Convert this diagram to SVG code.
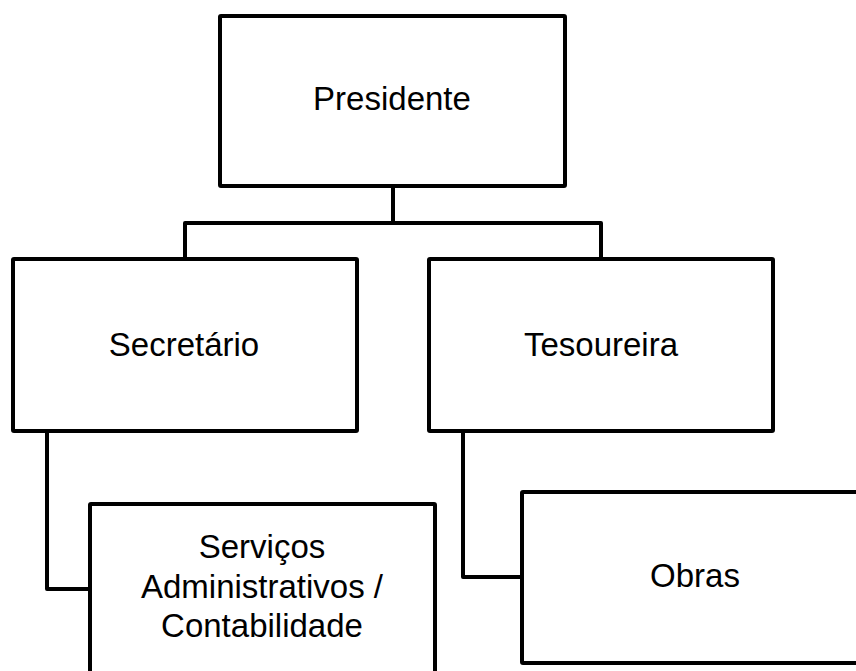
<svg xmlns="http://www.w3.org/2000/svg" width="856" height="671" viewBox="0 0 856 671">
<style>
.box{fill:#fff;stroke:#000;stroke-width:4;stroke-linejoin:round}
.conn{fill:none;stroke:#000;stroke-width:4;stroke-linejoin:round}
text{font-family:"Liberation Sans",Arial,sans-serif;font-size:33px;fill:#000;text-anchor:middle}
</style>
<rect width="856" height="671" fill="#fff"/>
<g id="connectors">
<path class="conn" d="M393,186 V223 H185 V259 M393,223 H601 V259"/>
<path class="conn" d="M47,431 V589 H90"/>
<path class="conn" d="M463,431 V577 H522"/>
</g>
<g id="presidente">
<rect class="box" x="220" y="16" width="345" height="170" rx="1"/>
<text x="392" y="110">Presidente</text>
</g>
<g id="secretario">
<rect class="box" x="13" y="259" width="344" height="172" rx="1"/>
<text x="184" y="356">Secretário</text>
</g>
<g id="tesoureira">
<rect class="box" x="429" y="259" width="344" height="172" rx="1"/>
<text x="601" y="356">Tesoureira</text>
</g>
<g id="servicos">
<rect class="box" x="90" y="504" width="345" height="172" rx="1"/>
<text x="262" y="558">Serviços</text>
<text x="262" y="598">Administrativos /</text>
<text x="262" y="637">Contabilidade</text>
</g>
<g id="obras">
<rect class="box" x="522" y="492" width="345" height="171" rx="1"/>
<text x="695" y="587">Obras</text>
</g>
</svg>
